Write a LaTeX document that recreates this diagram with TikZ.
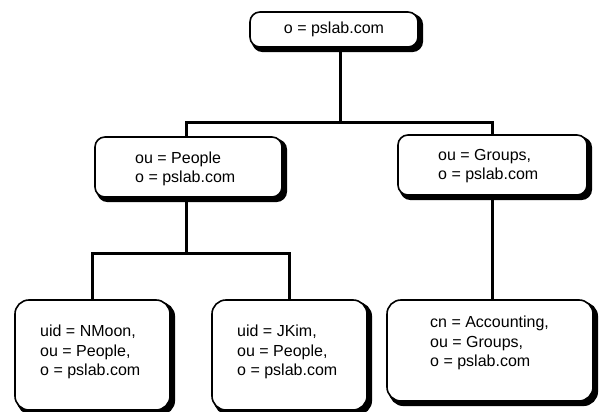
\documentclass[tikz,border=0pt]{standalone}
\usepackage{fontspec}
\setmainfont{Liberation Sans}
\usetikzlibrary{backgrounds}
\begin{document}
\begin{tikzpicture}[x=1pt,y=-1pt,
  box/.style={draw=black, line width=1.6pt, fill=white, rounded corners=10pt, inner sep=0pt},
  leaf/.style={box, rounded corners=14pt},
  shade/.style={fill=black, draw=black, line width=1.6pt},
  conn/.style={line width=3pt},
  txt/.style={font=\fontsize{16}{19.5}\selectfont, align=left, inner sep=0pt, anchor=west}]
\useasboundingbox (0,0) rectangle (600,412);
% boxes
\node[box, minimum width=168pt, minimum height=35pt] (top) at (334,29.5) {};
\node[box, minimum width=187pt, minimum height=60pt] (people) at (188.5,167) {};
\node[box, minimum width=189pt, minimum height=60pt] (groups) at (492.5,165) {};
\node[leaf, minimum width=155pt, minimum height=110pt] (nmoon) at (92.5,355) {};
\node[leaf, minimum width=155pt, minimum height=110pt] (jkim) at (289.5,355) {};
\node[leaf, minimum width=206pt, minimum height=101pt] (acct) at (490,350.5) {};
% shadows
\begin{scope}[on background layer]
  \foreach \n/\r in {top/10pt, people/10pt, groups/10pt, nmoon/14pt, jkim/14pt, acct/14pt}
    \draw[shade, rounded corners=\r] ([shift={(3.5,3.5)}]\n.south west) rectangle ([shift={(3.5,3.5)}]\n.north east);
\end{scope}
% junctions
\coordinate (j1) at (340,122);
\coordinate (j2) at (186,253);
% connectors
\draw[conn] (top.south -| j1) -- (j1);
\draw[conn] (people.north -| j2) |- (j1) -| (groups.north);
\draw[conn] (people.south -| j2) -- (j2);
\draw[conn] (nmoon.north) |- (j2) -| (jkim.north);
\draw[conn] (groups.south) -- (groups.south |- acct.north);
% texts
\node[txt, anchor=center] (t0) at (top.center) {o = pslab.com};
\node[txt] (t1) at (135,169) {ou = People\\o = pslab.com};
\node[txt] (t2) at (438,166) {ou = Groups,\\o = pslab.com};
\node[txt] (t3) at (40,352) {uid = NMoon,\\ou = People,\\o = pslab.com};
\node[txt] (t4) at (237,352) {uid = JKim,\\ou = People,\\o = pslab.com};
\node[txt] (t5) at (430,343) {cn = Accounting,\\ou = Groups,\\o = pslab.com};
\end{tikzpicture}
\end{document}
